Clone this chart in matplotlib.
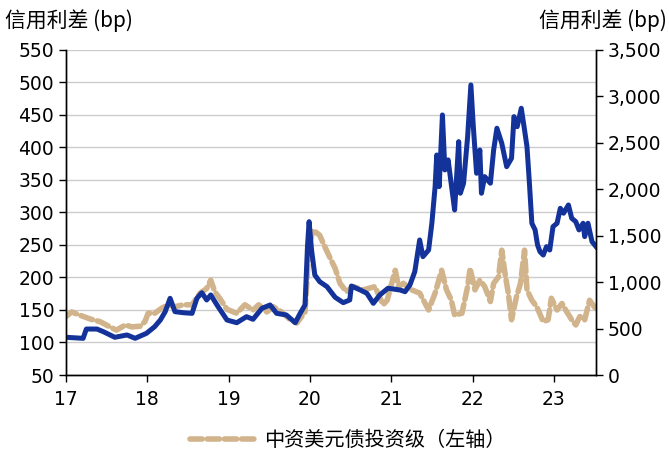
import matplotlib
matplotlib.use("Agg")
import matplotlib.pyplot as plt
import matplotlib.ticker as mticker

plt.rcParams['font.family'] = ['DejaVu Sans', 'Noto Sans CJK SC']

# IG spread (left axis, bp)
ig_t = [17.00, 17.07, 17.17, 17.30, 17.42, 17.54, 17.62, 17.73, 17.81, 17.91,
        17.97, 18.01, 18.09, 18.18, 18.26, 18.34, 18.44, 18.55, 18.65, 18.73,
        18.78, 18.83, 18.89, 18.98, 19.10, 19.20, 19.30, 19.37, 19.47, 19.55,
        19.65, 19.76, 19.84, 19.94, 19.99, 20.04, 20.12, 20.21, 20.31, 20.37,
        20.45, 20.53, 20.66, 20.80, 20.90, 20.95, 21.05, 21.09, 21.15, 21.25,
        21.35, 21.46, 21.54, 21.62, 21.68, 21.74, 21.78, 21.87, 21.94, 21.97,
        22.03, 22.09, 22.15, 22.22, 22.26, 22.32, 22.36, 22.40, 22.44, 22.48,
        22.54, 22.59, 22.64, 22.67, 22.73, 22.79, 22.87, 22.93, 22.97, 23.04,
        23.10, 23.16, 23.22, 23.27, 23.32, 23.38, 23.44, 23.51]
ig_v = [140, 147, 142, 136, 132, 124, 119, 127, 124, 125,
        132, 145, 145, 153, 158, 155, 158, 158, 176, 183,
        196, 178, 168, 151, 145, 158, 150, 158, 147, 155,
        147, 135, 130, 147, 250, 273, 265, 240, 214, 191,
        178, 186, 181, 186, 158, 165, 211, 186, 191, 181,
        176, 150, 176, 211, 181, 165, 142, 145, 186, 214,
        181, 196, 186, 163, 191, 201, 242, 206, 176, 135,
        170, 191, 242, 181, 165, 155, 132, 135, 168, 150,
        160, 147, 135, 127, 140, 135, 165, 153]

# HY spread (right axis, bp)
hy_t = [17.00, 17.21, 17.25, 17.38, 17.46, 17.60, 17.75, 17.85, 17.99, 18.09,
        18.16, 18.22, 18.28, 18.34, 18.44, 18.55, 18.61, 18.67, 18.73, 18.78,
        18.87, 18.98, 19.10, 19.22, 19.30, 19.41, 19.51, 19.59, 19.71, 19.82,
        19.88, 19.94, 19.97, 19.99, 20.02, 20.06, 20.12, 20.21, 20.31, 20.41,
        20.49, 20.51, 20.62, 20.70, 20.78, 20.86, 20.96, 21.11, 21.17, 21.23,
        21.29, 21.35, 21.39, 21.46, 21.50, 21.54, 21.56, 21.59, 21.63, 21.66,
        21.70, 21.74, 21.78, 21.83, 21.85, 21.89, 21.94, 21.98, 22.01, 22.05,
        22.09, 22.11, 22.15, 22.22, 22.26, 22.30, 22.36, 22.42, 22.48, 22.51,
        22.55, 22.60, 22.64, 22.67, 22.70, 22.73, 22.77, 22.80, 22.83, 22.87,
        22.91, 22.95, 22.99, 23.04, 23.08, 23.12, 23.18, 23.22, 23.27, 23.31,
        23.36, 23.38, 23.42, 23.47, 23.52]
hy_v = [406, 395, 495, 495, 466, 406, 431, 395, 449, 520,
        592, 682, 826, 682, 671, 664, 826, 886, 808, 862,
        736, 592, 563, 628, 600, 718, 754, 664, 646, 563,
        664, 754, 1382, 1651, 1346, 1077, 1005, 951, 837, 779,
        808, 958, 915, 880, 772, 862, 934, 915, 897, 969,
        1113, 1454, 1274, 1346, 1634, 2028, 2369, 2028, 2800, 2208,
        2316, 2046, 1777, 2513, 1957, 2065, 2567, 3123, 2674, 2172,
        2423, 1957, 2136, 2065, 2423, 2657, 2495, 2243, 2334, 2782,
        2674, 2872, 2639, 2459, 2065, 1634, 1562, 1400, 1328, 1292,
        1382, 1346, 1597, 1634, 1795, 1742, 1831, 1688, 1651, 1562,
        1634, 1490, 1634, 1436, 1382]

years = [17, 18, 19, 20, 21, 22, 23]

tan = '#D2B48C'
navy = '#14339A'

fig = plt.figure(figsize=(6.69, 4.54), dpi=100)
ax = fig.add_axes([0.0987, 0.174, 0.7923, 0.716])
ax2 = ax.twinx()

line_ig, = ax.plot(ig_t, ig_v, color=tan, lw=4.0, linestyle=(0, (2.2, 0.9)),
                   dash_capstyle='round', label='中资美元债投资级（左轴）')
ax2.plot(hy_t, hy_v, color=navy, lw=3.6, solid_joinstyle='round')

ax.set_xlim(17, 23.52)
ax.set_ylim(50, 550)
ax2.set_ylim(0, 3500)
ax.set_yticks(range(50, 551, 50))
ax2.set_yticks(range(0, 3501, 500))
ax2.yaxis.set_major_formatter(mticker.StrMethodFormatter('{x:,.0f}'))
ax.set_xticks(years)
ax.set_xticklabels([str(y) for y in years])

ax.grid(axis='y', color='#CCCCCC', linewidth=1.0)
ax.set_axisbelow(True)

for a in (ax, ax2):
    a.spines['top'].set_visible(False)
    a.tick_params(labelsize=13.5, length=5, width=1.0, direction='out', colors='black')
    for s in ('left', 'right', 'bottom'):
        a.spines[s].set_linewidth(1.0)
ax.tick_params(axis='x', pad=6)

cjk = ['Noto Sans CJK SC', 'DejaVu Sans']
fig.text(0.008, 0.955, '信用利差 (bp)', fontsize=15, family=cjk, va='center', ha='left')
fig.text(0.997, 0.955, '信用利差 (bp)', fontsize=15, family=cjk, va='center', ha='right')

fig.legend(handles=[line_ig], loc='center', bbox_to_anchor=(0.52, 0.03),
           frameon=False, prop={'family': cjk, 'size': 14.5},
           handlelength=3.2, handletextpad=0.5)

fig.savefig('out.png', dpi=100)
